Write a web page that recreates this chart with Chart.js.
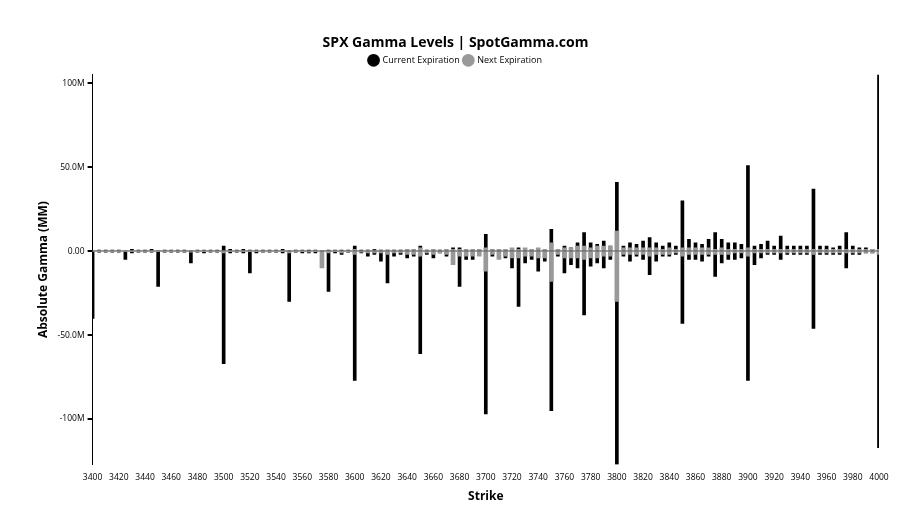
<!DOCTYPE html>
<html><head><meta charset="utf-8">
<script src="https://cdn.jsdelivr.net/npm/chart.js@4"></script>
<style>html,body{margin:0;background:#fff}#w{width:920px;height:526px}</style>
</head><body><div id="w"><canvas id="c"></canvas></div>
<script>
const strikes=[];for(let s=3400;s<=4000;s+=5)strikes.push(s);
const currentCall=[0,0.5,0.5,0.5,0.5,0,1,0.5,0.5,1,0,0.5,0.5,0.5,0.5,0,0.5,0.5,0.5,0.5,3,1,0.5,1,0.5,0.5,0.5,0.5,0.5,1,0,0.5,0.5,0.5,0.5,0,0.5,0.5,0.5,0.5,3,0.5,0.5,1,0.5,0.5,0.5,0.5,0.5,0.5,3,0.5,0.5,0.5,0.5,2,2,0.5,0.5,0.5,10,1,0.5,0.5,0.5,2,1,1,0.5,1,13,1,3,2,5,11,5,4,6,3,41,3,5,4,6,8,5,3,5,3,30,7,5,4,7,11,7,5,5,4,51,3,4,6,3,9,3,3,3,3,37,3,3,2,3,11,3,2,2,1,106];
const currentPut=[-40,-0.5,-0.5,-0.5,-0.5,-5,-1,-0.5,-0.5,-0.5,-21,-0.5,-0.5,-0.5,-0.5,-7,-0.5,-1,-0.5,-0.5,-67,-1,-0.5,-1,-13,-1,-0.5,-0.5,-0.5,-1,-30,-0.5,-1,-1,-1,-5,-24,-1,-2,-0.5,-77,-1,-3,-2,-6,-19,-3,-2,-4,-3,-61,-2,-4,-1,-3,-4,-21,-5,-5,-2,-97,-3,-4,-4,-10,-33,-7,-5,-12,-6,-95,-3,-13,-8,-10,-38,-9,-7,-10,-5,-127,-3,-6,-3,-5,-14,-6,-3,-3,-2,-43,-5,-5,-6,-3,-15,-7,-5,-5,-4,-77,-8,-4,-2,-2,-5,-2,-2,-2,-2,-46,-2,-2,-2,-2,-10,-2,-2,-1,-1,-117];
const nextCall=[0,0,0,0,0,0,0,0,0,0,0,0,0,0,0,0,0,0,0,0,0,0,0,0,0,0,0,0,0,0,0,0,0,0,0,0,0,0,0,0,1,0,0.5,0.5,0.5,0.5,0.5,0.5,1,1,2,0.5,1,0.5,1,1,1,1,1,1,2,1,1,1,2,1,2,1,2,1,5,1,2,2,3,3,2,3,3,3,12,2,2,2,2,2,2,1,2,1,2,2,2,2,2,1,2,1,1,1,2,1,1,1,1,1,1,1,1,1,1,1,1,1,1,1,1,1,1,1,1];
const nextPut=[0,0,0,0,0,0,0,0,0,0,0,0,0,0,0,-0.5,0,0,0,0,-1,0,0,0,0,0,0,0,0,0,-1,0,0,-0.5,0,-10,-1,0,-1,0,-2,-0.5,-1,-1,-1,-2,-1,-1,-2,-2,-3,-1,-2,-1,-2,-8,-3,-3,-3,-3,-12,-2,-5,-3,-4,-4,-3,-3,-4,-4,-18,-2,-4,-4,-4,-5,-4,-4,-3,-3,-30,-2,-2,-2,-2,-3,-2,-2,-2,-1,-3,-2,-2,-2,-2,-2,-2,-2,-1,-1,-3,-1,-1,-1,-1,-1,-1,-1,-1,-1,-2,-1,-1,-1,-1,-1,-1,-1,-1,-1,-2];
const yTicks=[-100,-50,0,50,100];
const yLabels={"-100":"-100M","-50":"-50.0M","0":"0.00","50":"50.0M","100":"100M"};
const pts=a=>strikes.map((s,i)=>({x:s,y:a[i]}));
const base={grouped:false,barThickness:3,borderWidth:0};
new Chart(document.getElementById('c'),{
 type:'bar',
 data:{datasets:[
  {...base,label:'Current Expiration',data:pts(currentCall),backgroundColor:'#000',order:2,legendRank:0},
  {...base,label:'Current Expiration',data:pts(currentPut),backgroundColor:'#000',order:2,hiddenLegend:true},
  {...base,label:'Next Expiration',data:pts(nextCall),backgroundColor:'#999',order:1,barThickness:4,legendRank:1},
  {...base,label:'Next Expiration',data:pts(nextPut),backgroundColor:'#999',order:1,barThickness:4,hiddenLegend:true}
 ]},
 options:{responsive:true,maintainAspectRatio:false,animation:false,
  layout:{padding:{left:32,right:41,top:35,bottom:18}},
  plugins:{
   title:{display:true,text:'SPX Gamma Levels | SpotGamma.com',font:{family:'Open Sans',size:14,weight:'bold'},color:'#000',padding:{top:0,bottom:0}},
   legend:{labels:{padding:4,filter:(it,d)=>!d.datasets[it.datasetIndex].hiddenLegend,sort:(a,b,d)=>d.datasets[a.datasetIndex].legendRank-d.datasets[b.datasetIndex].legendRank,usePointStyle:true,pointStyle:'circle',boxWidth:11,boxHeight:11,color:'#000',font:{family:'Open Sans',size:9}},
     onClick:null},
   tooltip:{enabled:false}},
  scales:{
   x:{type:'linear',min:3400,max:4000,offset:false,
     ticks:{stepSize:20,color:'#000',font:{family:'Open Sans',size:8.5},maxRotation:0,autoSkip:false,callback:v=>String(v)},
     grid:{display:false,drawTicks:true,tickLength:5},border:{display:false},
     title:{display:true,text:'Strike',color:'#000',font:{family:'Open Sans',size:12,weight:'bold'}}},
   y:{min:-127,max:105,
     afterBuildTicks:ax=>{ax.ticks=yTicks.map(v=>({value:v}));},
     ticks:{callback:v=>yLabels[v],color:'#000',font:{family:'Open Sans',size:8.5}},
     grid:{color:c=>c.tick&&c.tick.value===0?'#999':'rgba(0,0,0,0)',lineWidth:2,drawTicks:true,tickColor:'#000',tickLength:5},
     border:{display:true,color:'#000'},
     title:{display:true,text:'Absolute Gamma (MM)',color:'#000',font:{family:'Open Sans',size:12,weight:'bold'}}}
  }}
});
</script></body></html>
